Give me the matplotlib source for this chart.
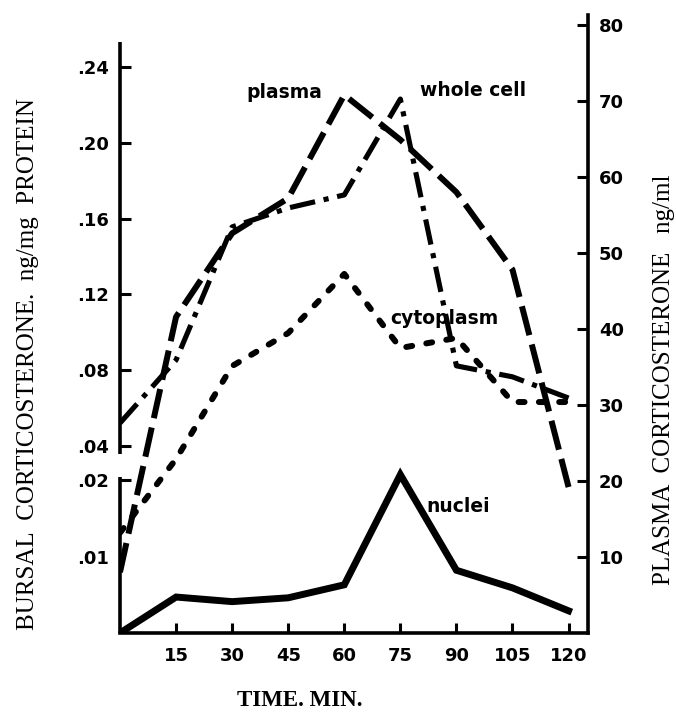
import numpy as np
import matplotlib
matplotlib.use("Agg")
import matplotlib.pyplot as plt

# ---------------- data ----------------
time_min = [0, 15, 30, 45, 60, 75, 90, 105, 120]
x_ticks = [15, 30, 45, 60, 75, 90, 105, 120]

# plasma corticosterone, ng/ml (right axis)
plasma = [8.0, 41.6, 52.6, 57.2, 70.8, 64.9, 58.0, 47.8, 19.2]
# bursal corticosterone, ng/mg protein (left, broken axis)
whole_cell = [0.0521, 0.0854, 0.1556, 0.1656, 0.1725, 0.2231, 0.0823, 0.0765, 0.0653]
cytoplasm = [0.0131, 0.0275, 0.0822, 0.0996, 0.1308, 0.0917, 0.0970, 0.0632, 0.0632]
nuclei = [0.0, 0.0047, 0.0041, 0.0046, 0.0063, 0.0207, 0.0082, 0.0059, 0.0029]

left_ticks = [0.01, 0.02, 0.04, 0.08, 0.12, 0.16, 0.20, 0.24]
left_labels = [".01", ".02", ".04", ".08", ".12", ".16", ".20", ".24"]
right_ticks = [10, 20, 30, 40, 50, 60, 70, 80]

# ---------------- broken-axis scale (left) ----------------
LOW_SLOPE = 7650.0
V1, V2 = 0.022, 0.04
H1 = V1 * LOW_SLOPE
H2 = 187.0
UP_SLOPE = 1895.0
GAP_SLOPE = (H2 - H1) / (V2 - V1)


def fwd(v):
    v = np.asarray(v, dtype=float)
    return np.where(v <= V1, v * LOW_SLOPE,
                    np.where(v < V2, H1 + (v - V1) * GAP_SLOPE,
                             H2 + (v - V2) * UP_SLOPE))


def inv(h):
    h = np.asarray(h, dtype=float)
    return np.where(h <= H1, h / LOW_SLOPE,
                    np.where(h < H2, V1 + (h - H1) / GAP_SLOPE,
                             V2 + (h - H2) / UP_SLOPE))


W, H = 676, 722
fig = plt.figure(figsize=(W / 100, H / 100), dpi=100)
ax = fig.add_axes([120 / W, (H - 633) / H, (588 - 120) / W, (633 - 15) / H])
ax2 = ax.twinx()

ax.set_yscale('function', functions=(fwd, inv))
TOP_H = 618.0
ax.set_ylim(0, float(inv(TOP_H)))
ax2.set_ylim(0, TOP_H / 7.6)
ax.set_xlim(0, 125.2)

# lines
ax.plot(time_min, whole_cell, color='black', lw=3.7,
        linestyle=(0, (5.0, 1.7, 1.0, 1.7)), dash_capstyle='butt')
ax.plot(time_min, cytoplasm, color='black', lw=4.3,
        linestyle=(0, (1.0, 2.4)), dash_capstyle='round')
ax.plot(time_min, nuclei, color='black', lw=5.0, solid_joinstyle='miter')
ax2.plot(time_min, plasma, color='black', lw=4.3,
         linestyle=(0, (5.0, 1.6)), dash_capstyle='butt')

# spines
for s in ['top', 'left']:
    ax.spines[s].set_visible(False)
    ax2.spines[s].set_visible(False)
ax2.spines['bottom'].set_visible(False)
ax.spines['right'].set_visible(False)
ax.spines['bottom'].set_linewidth(2.6)
ax2.spines['right'].set_linewidth(2.6)

# broken left spine
ytr = ax.get_yaxis_transform()
ax.plot([0, 0], [float(inv(591)), float(inv(179))], transform=ytr,
        color='black', lw=2.6, clip_on=False, solid_capstyle='butt')
ax.plot([0, 0], [0, float(inv(156))], transform=ytr,
        color='black', lw=2.6, clip_on=False, solid_capstyle='butt')

# ticks
tick_font = dict(family='DejaVu Sans', size=13, weight='bold')
ax.set_yticks(left_ticks)
ax.set_yticklabels(left_labels, fontdict=tick_font)
ax.yaxis.set_minor_locator(matplotlib.ticker.NullLocator())
ax.tick_params(axis='y', direction='in', length=8, width=2.2, pad=8)
ax.yaxis.get_major_ticks()[0].tick1line.set_visible(False)

ax.set_xticks(x_ticks)
ax.set_xticklabels([str(t) for t in x_ticks], fontdict=tick_font)
ax.tick_params(axis='x', direction='in', length=7, width=2.2, pad=10)

ax2.set_yticks(right_ticks)
ax2.set_yticklabels([str(t) for t in right_ticks], fontdict=tick_font)
ax2.tick_params(axis='y', direction='in', length=8, width=2.2, pad=8)

# axis titles
serif = 'Liberation Serif'
fig.text(28 / W, 1 - 364 / H, "BURSAL  CORTICOSTERONE.  ng/mg  PROTEIN",
         rotation=90, ha='center', va='center', family=serif, size=18)
fig.text(664 / W, 1 - 380 / H, "PLASMA  CORTICOSTERONE   ng/ml",
         rotation=90, ha='center', va='center', family=serif, size=18)
fig.text(300 / W, 1 - 700 / H, "TIME. MIN.", ha='center', va='center',
         family=serif, size=16.5, weight='bold')

# series labels
lab_font = dict(family='DejaVu Sans', size=13.5, weight='bold')
fig.text(284 / W, 1 - 92 / H, "plasma", ha='center', va='center', **lab_font)
fig.text(473 / W, 1 - 90 / H, "whole cell", ha='center', va='center', **lab_font)
fig.text(444 / W, 1 - 318 / H, "cytoplasm", ha='center', va='center', **lab_font)
fig.text(458 / W, 1 - 506 / H, "nuclei", ha='center', va='center', **lab_font)

fig.savefig("out.png", dpi=100)
